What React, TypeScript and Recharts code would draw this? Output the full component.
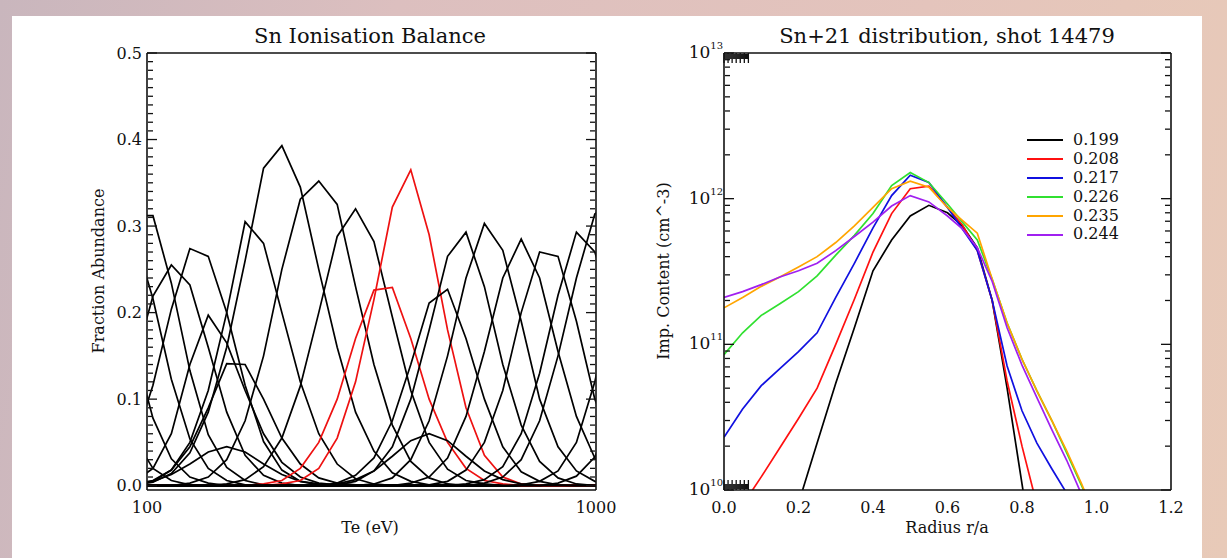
import React from "react";
import { LineChart, Line, XAxis, YAxis } from "recharts";

// ---------- left panel: Sn ionisation balance ----------
// Te grid (eV); first and last points sit just outside the 100-1000 axis
const TE = [93.9, 103.1, 113.3, 124.6, 136.9, 150.5, 165.4, 181.8, 199.7, 219.5, 241.3, 265.2, 291.4, 320.2, 351.9, 386.8, 425.0, 467.1, 513.4, 564.2, 620.0, 681.4, 748.9, 823.0, 904.5, 994.0, 1092.4];

// fractional abundance of each charge stage, one value per TE point
const STAGE_A = [0.054, 0.02, 0.006, 0.001, 0, 0, 0, 0, 0, 0, 0, 0, 0, 0, 0, 0, 0, 0, 0, 0, 0, 0, 0, 0, 0, 0, 0];
const STAGE_B = [0.157, 0.078, 0.031, 0.01, 0.003, 0, 0, 0, 0, 0, 0, 0, 0, 0, 0, 0, 0, 0, 0, 0, 0, 0, 0, 0, 0, 0, 0];
const STAGE_C = [0.288, 0.216, 0.123, 0.054, 0.02, 0.006, 0.001, 0, 0, 0, 0, 0, 0, 0, 0, 0, 0, 0, 0, 0, 0, 0, 0, 0, 0, 0, 0];
const STAGE_D = [0.312, 0.312, 0.234, 0.133, 0.059, 0.021, 0.006, 0.001, 0, 0, 0, 0, 0, 0, 0, 0, 0, 0, 0, 0, 0, 0, 0, 0, 0, 0, 0];
const STAGE_E = [0.143, 0.219, 0.255, 0.232, 0.16, 0.085, 0.035, 0.012, 0.003, 0, 0, 0, 0, 0, 0, 0, 0, 0, 0, 0, 0, 0, 0, 0, 0, 0, 0];
const STAGE_F = [0.051, 0.116, 0.204, 0.274, 0.265, 0.2, 0.116, 0.051, 0.018, 0.005, 0.001, 0, 0, 0, 0, 0, 0, 0, 0, 0, 0, 0, 0, 0, 0, 0, 0];
const STAGE_G = [0.005, 0.02, 0.06, 0.14, 0.197, 0.165, 0.11, 0.06, 0.027, 0.01, 0.003, 0.001, 0, 0, 0, 0, 0, 0, 0, 0, 0, 0, 0, 0, 0, 0, 0];
const STAGE_H = [0.002, 0.006, 0.018, 0.045, 0.09, 0.141, 0.14, 0.1, 0.055, 0.025, 0.009, 0.003, 0.001, 0, 0, 0, 0, 0, 0, 0, 0, 0, 0, 0, 0, 0, 0];
const STAGE_I = [0.002, 0.005, 0.013, 0.025, 0.039, 0.045, 0.039, 0.025, 0.013, 0.005, 0.002, 0, 0, 0, 0, 0, 0, 0, 0, 0, 0, 0, 0, 0, 0, 0, 0];
const STAGE_J = [0.001, 0.005, 0.018, 0.05, 0.11, 0.2, 0.305, 0.28, 0.2, 0.12, 0.06, 0.025, 0.008, 0.002, 0, 0, 0, 0, 0, 0, 0, 0, 0, 0, 0, 0, 0];
const STAGE_K = [0.001, 0.004, 0.014, 0.038, 0.085, 0.16, 0.26, 0.367, 0.393, 0.345, 0.25, 0.16, 0.085, 0.04, 0.015, 0.005, 0.001, 0, 0, 0, 0, 0, 0, 0, 0, 0, 0];
const STAGE_L = [0, 0, 0, 0.003, 0.01, 0.03, 0.075, 0.15, 0.25, 0.331, 0.352, 0.325, 0.23, 0.14, 0.07, 0.028, 0.009, 0.002, 0, 0, 0, 0, 0, 0, 0, 0, 0];
const STAGE_M = [0, 0, 0, 0, 0, 0.002, 0.007, 0.022, 0.055, 0.115, 0.2, 0.288, 0.32, 0.282, 0.195, 0.11, 0.05, 0.019, 0.006, 0.002, 0, 0, 0, 0, 0, 0, 0];
const STAGE_N = [0, 0, 0, 0, 0, 0, 0, 0.002, 0.006, 0.02, 0.05, 0.1, 0.17, 0.226, 0.229, 0.17, 0.1, 0.05, 0.02, 0.006, 0.002, 0, 0, 0, 0, 0, 0];
const STAGE_O = [0, 0, 0, 0, 0, 0, 0, 0, 0.002, 0.006, 0.02, 0.055, 0.12, 0.215, 0.322, 0.365, 0.29, 0.18, 0.09, 0.035, 0.01, 0.002, 0, 0, 0, 0, 0];
const STAGE_P = [0, 0, 0, 0, 0, 0, 0, 0, 0, 0, 0, 0.002, 0.007, 0.017, 0.034, 0.052, 0.06, 0.052, 0.034, 0.017, 0.007, 0.002, 0, 0, 0, 0, 0];
const STAGE_Q = [0, 0, 0, 0, 0, 0, 0, 0, 0, 0, 0, 0.003, 0.012, 0.032, 0.075, 0.14, 0.211, 0.227, 0.17, 0.1, 0.045, 0.016, 0.005, 0.001, 0, 0, 0];
const STAGE_R = [0, 0, 0, 0, 0, 0, 0, 0, 0, 0, 0, 0.001, 0.005, 0.017, 0.045, 0.1, 0.18, 0.265, 0.293, 0.23, 0.14, 0.07, 0.028, 0.009, 0.002, 0, 0];
const STAGE_S = [0, 0, 0, 0, 0, 0, 0, 0, 0, 0, 0, 0, 0, 0.002, 0.009, 0.03, 0.075, 0.15, 0.24, 0.303, 0.272, 0.19, 0.1, 0.045, 0.017, 0.005, 0.001];
const STAGE_T = [0, 0, 0, 0, 0, 0, 0, 0, 0, 0, 0, 0, 0, 0, 0, 0.003, 0.01, 0.032, 0.08, 0.155, 0.24, 0.285, 0.24, 0.155, 0.08, 0.032, 0.01];
const STAGE_U = [0, 0, 0, 0, 0, 0, 0, 0, 0, 0, 0, 0, 0, 0, 0, 0, 0.001, 0.005, 0.018, 0.05, 0.11, 0.2, 0.27, 0.265, 0.19, 0.1, 0.045];
const STAGE_V = [0, 0, 0, 0, 0, 0, 0, 0, 0, 0, 0, 0, 0, 0, 0, 0, 0, 0, 0.002, 0.007, 0.022, 0.06, 0.13, 0.22, 0.293, 0.27, 0.2];
const STAGE_W = [0, 0, 0, 0, 0, 0, 0, 0, 0, 0, 0, 0, 0, 0, 0, 0, 0, 0, 0, 0.003, 0.01, 0.03, 0.075, 0.15, 0.24, 0.314, 0.33];
const STAGE_X = [0, 0, 0, 0, 0, 0, 0, 0, 0, 0, 0, 0, 0, 0, 0, 0, 0, 0, 0, 0, 0, 0.001, 0.005, 0.017, 0.05, 0.12, 0.22];
const STAGE_Y = [0, 0, 0, 0, 0, 0, 0, 0, 0, 0, 0, 0, 0, 0, 0, 0, 0, 0, 0, 0, 0, 0, 0, 0.003, 0.011, 0.033, 0.084];

const STAGES = [STAGE_A, STAGE_B, STAGE_C, STAGE_D, STAGE_E, STAGE_F, STAGE_G, STAGE_H, STAGE_I, STAGE_J, STAGE_K, STAGE_L, STAGE_M, STAGE_N, STAGE_O, STAGE_P, STAGE_Q, STAGE_R, STAGE_S, STAGE_T, STAGE_U, STAGE_V, STAGE_W, STAGE_X, STAGE_Y];
const RED_STAGES = [13, 14]; // Sn+21 highlighted

const TE_TICKS = [100, 1000];
const TE_MINOR = [200, 300, 400, 500, 600, 700, 800, 900];
const FRAC_TICKS = [0, 0.1, 0.2, 0.3, 0.4, 0.5];
const FRAC_MINOR = [
  0.01, 0.02, 0.03, 0.04, 0.05, 0.06, 0.07, 0.08, 0.09,
  0.11, 0.12, 0.13, 0.14, 0.15, 0.16, 0.17, 0.18, 0.19,
  0.21, 0.22, 0.23, 0.24, 0.25, 0.26, 0.27, 0.28, 0.29,
  0.31, 0.32, 0.33, 0.34, 0.35, 0.36, 0.37, 0.38, 0.39,
  0.41, 0.42, 0.43, 0.44, 0.45, 0.46, 0.47, 0.48, 0.49,
];

// ---------- right panel: Sn+21 radial distribution ----------
const RADIUS = [0, 0.05, 0.1, 0.15, 0.2, 0.25, 0.3, 0.35, 0.4, 0.45, 0.5, 0.55, 0.6, 0.64, 0.68, 0.72, 0.76, 0.8, 0.84, 0.88, 0.92, 0.96, 1.0];
const DIST_199 = [null, null, null, 3.2e9, 8.1e9, 2.1e10, 5.4e10, 1.3e11, 3.2e11, 5.2e11, 7.6e11, 9.0e11, 8.0e11, 6.5e11, 4.6e11, 2.0e11, 5.0e10, 1.1e10, 2.5e9, null, null, null, null];
const DIST_208 = [null, 7.9e9, 1.23e10, 1.95e10, 3.1e10, 5.0e10, 1.0e11, 2.04e11, 4.3e11, 7.9e11, 1.17e12, 1.22e12, 8.7e11, 6.6e11, 4.4e11, 2.0e11, 5.6e10, 2.0e10, 7.9e9, null, null, null, null];
const DIST_217 = [2.3e10, 3.6e10, 5.2e10, 6.8e10, 8.9e10, 1.2e11, 2.1e11, 3.6e11, 6.3e11, 1.05e12, 1.45e12, 1.29e12, 8.7e11, 6.2e11, 4.4e11, 2.0e11, 7.1e10, 3.5e10, 2.1e10, 1.4e10, 9.5e9, 6.3e9, null];
const DIST_226 = [8.5e10, 1.2e11, 1.58e11, 1.9e11, 2.3e11, 2.95e11, 4.1e11, 5.6e11, 7.9e11, 1.23e12, 1.51e12, 1.29e12, 9.2e11, 6.9e11, 5.2e11, 2.8e11, 1.4e11, 7.9e10, 4.8e10, 3.0e10, 1.8e10, 1.07e10, 6.3e9];
const DIST_235 = [1.78e11, 2.1e11, 2.5e11, 2.9e11, 3.4e11, 4.0e11, 5.0e11, 6.5e11, 8.7e11, 1.17e12, 1.32e12, 1.2e12, 8.7e11, 7.1e11, 5.8e11, 2.8e11, 1.4e11, 7.9e10, 4.8e10, 3.0e10, 1.86e10, 1.1e10, 6.3e9];
const DIST_244 = [2.1e11, 2.3e11, 2.57e11, 2.9e11, 3.2e11, 3.6e11, 4.4e11, 5.5e11, 6.9e11, 8.9e11, 1.05e12, 9.5e11, 7.6e11, 6.2e11, 4.6e11, 2.7e11, 1.3e11, 7.2e10, 4.3e10, 2.6e10, 1.6e10, 9.3e9, null];

const DIST_NAMES = ["0.199", "0.208", "0.217", "0.226", "0.235", "0.244"];
const DIST_SERIES = [DIST_199, DIST_208, DIST_217, DIST_226, DIST_235, DIST_244];
const DIST_COLORS = ["#000000", "#ff1010", "#1010e0", "#30e030", "#ffa500", "#a020f0"];

const R_TICKS = [0, 0.2, 0.4, 0.6, 0.8, 1.0, 1.2];
const R_MINOR = [0.05, 0.1, 0.15, 0.25, 0.3, 0.35, 0.45, 0.5, 0.55, 0.65, 0.7, 0.75, 0.85, 0.9, 0.95, 1.05, 1.1, 1.15];
const DEC_TICKS = [1e10, 1e11, 1e12, 1e13];
const DEC_MINOR = [2e10, 3e10, 4e10, 5e10, 6e10, 7e10, 8e10, 9e10, 2e11, 3e11, 4e11, 5e11, 6e11, 7e11, 8e11, 9e11, 2e12, 3e12, 4e12, 5e12, 6e12, 7e12, 8e12, 9e12];
// same marks as exponents, for the left-hand tick ruler
const EXP_TICKS = [10, 11, 12, 13];
const EXP_MINOR = [
  10.301, 10.477, 10.602, 10.699, 10.778, 10.845, 10.903, 10.954,
  11.301, 11.477, 11.602, 11.699, 11.778, 11.845, 11.903, 11.954,
  12.301, 12.477, 12.602, 12.699, 12.778, 12.845, 12.903, 12.954,
];

const ionRows = TE.map((te, i) => {
  const row: Record<string, number> = { te };
  STAGES.forEach((s, k) => (row["s" + k] = s[i]));
  return row;
});

const distRows = RADIUS.map((r, i) => {
  const row: Record<string, number | null> = { r };
  DIST_SERIES.forEach((s, k) => (row["d" + k] = s[i]));
  return row;
});

const FONT = "'DejaVu Serif', serif";
const INK = "#111";
const AXIS = { stroke: INK, strokeWidth: 1.6 };
const TICK = { stroke: INK, strokeWidth: 1.3 };
const LABEL = { fontFamily: FONT, fontSize: 16, fill: INK };

// tick marks only, no text
const NoText = () => <g />;

function PowerTick(props: any) {
  const { x, y, payload } = props;
  const exp = Math.round(Math.log10(payload.value));
  return (
    <text x={x - 1} y={y} textAnchor="end" fontFamily={FONT} fill={INK}>
      <tspan fontSize={17} dy="0.3em">10</tspan>
      <tspan fontSize={10} dy="-0.9em">{exp}</tspan>
    </text>
  );
}

const abs = (left: number, top: number): React.CSSProperties => ({ position: "absolute", left, top });

function Title({ x, y, size, children, rotate }: any) {
  return (
    <div
      style={{
        position: "absolute",
        left: x,
        top: y,
        transform: `translate(-50%, -50%)${rotate ? " rotate(-90deg)" : ""}`,
        fontFamily: FONT,
        fontSize: size,
        color: INK,
        whiteSpace: "nowrap",
        lineHeight: 1,
      }}
    >
      {children}
    </div>
  );
}

function IonChart() {
  const num = { type: "number" as const, allowDataOverflow: true, interval: 0 as const };
  const teAx = { ...num, scale: "log" as const, domain: [100, 1000] };
  const frAx = { ...num, domain: [-0.005, 0.5] };
  const marks = { tick: <NoText />, axisLine: false, tickLine: TICK, mirror: true };
  return (
    <LineChart width={640} height={558} data={ionRows} margin={{ top: 53, right: 44, bottom: 67, left: 146 }}>
      <XAxis xAxisId={0} dataKey="te" {...teAx} ticks={TE_TICKS} height={1} tickSize={0} tickMargin={12} axisLine={AXIS} tickLine={false} tick={LABEL} />
      <XAxis xAxisId="bmin" {...teAx} {...marks} ticks={TE_MINOR} height={1} tickSize={7} />
      <XAxis xAxisId="top" orientation="top" {...teAx} {...marks} ticks={TE_MINOR} height={1} tickSize={7} axisLine={AXIS} />
      <YAxis yAxisId={0} {...frAx} ticks={FRAC_TICKS} width={1} tickSize={0} tickMargin={5} axisLine={AXIS} tickLine={false} tick={LABEL} tickFormatter={(v: number) => v.toFixed(1)} />
      <YAxis yAxisId="lmaj" {...frAx} {...marks} ticks={FRAC_TICKS} width={1} tickSize={10} />
      <YAxis yAxisId="lmin" {...frAx} {...marks} ticks={FRAC_MINOR} width={1} tickSize={5} />
      <YAxis yAxisId="rmaj" orientation="right" {...frAx} {...marks} ticks={FRAC_TICKS} width={1} tickSize={10} axisLine={AXIS} />
      <YAxis yAxisId="rmin" orientation="right" {...frAx} {...marks} ticks={FRAC_MINOR} width={1} tickSize={5} />
      {STAGES.map((_, k) => (
        <Line
          key={k}
          dataKey={"s" + k}
          type="linear"
          stroke={RED_STAGES.includes(k) ? "#ee1111" : "#000"}
          strokeWidth={1.7}
          dot={false}
          activeDot={false}
          isAnimationActive={false}
        />
      ))}
    </LineChart>
  );
}

function DistChart() {
  const num = { type: "number" as const, allowDataOverflow: true, interval: 0 as const };
  const rAx = { ...num, domain: [0, 1.2] };
  const nAx = { ...num, scale: "log" as const, domain: [1e10, 1e13] };
  const marks = { tick: <NoText />, axisLine: false, tickLine: TICK, mirror: true };
  return (
    <LineChart width={640} height={558} data={distRows} margin={{ top: 53, right: 29, bottom: 67, left: 163 }}>
      <XAxis xAxisId={0} dataKey="r" {...rAx} ticks={R_TICKS} height={1} tickSize={0} tickMargin={12} axisLine={AXIS} tickLine={false} tick={LABEL} tickFormatter={(v: number) => v.toFixed(1)} />
      <XAxis xAxisId="bmaj" {...rAx} {...marks} ticks={R_TICKS} height={1} tickSize={10} />
      <XAxis xAxisId="bmin" {...rAx} {...marks} ticks={R_MINOR} height={1} tickSize={5} />
      <XAxis xAxisId="tmaj" orientation="top" {...rAx} {...marks} ticks={R_TICKS} height={1} tickSize={10} axisLine={AXIS} />
      <XAxis xAxisId="tmin" orientation="top" {...rAx} {...marks} ticks={R_MINOR} height={1} tickSize={5} />
      <YAxis yAxisId={0} {...nAx} ticks={DEC_TICKS} width={1} tickSize={0} tickMargin={0} axisLine={AXIS} tickLine={false} tick={<PowerTick />} />
      <YAxis yAxisId="rmaj" orientation="right" {...nAx} {...marks} ticks={DEC_TICKS} width={1} tickSize={10} axisLine={AXIS} />
      <YAxis yAxisId="rmin" orientation="right" {...nAx} {...marks} ticks={DEC_MINOR} width={1} tickSize={5} />
      {DIST_SERIES.map((_, k) => (
        <Line
          key={k}
          dataKey={"d" + k}
          name={DIST_NAMES[k]}
          type="linear"
          stroke={DIST_COLORS[k]}
          strokeWidth={1.7}
          dot={false}
          activeDot={false}
          isAnimationActive={false}
        />
      ))}
    </LineChart>
  );
}

// transparent overlay holding only the inward marks of the right panel's left edge
function DistLeftRuler() {
  const eAx = { type: "number" as const, allowDataOverflow: true, interval: 0 as const, domain: [10, 13] };
  const marks = { tick: <NoText />, axisLine: false, tickLine: TICK, mirror: true };
  return (
    <LineChart width={640} height={558} data={distRows} margin={{ top: 53, right: 29, bottom: 67, left: 163 }}>
      <XAxis xAxisId={0} dataKey="r" type="number" domain={[0, 1.2]} allowDataOverflow height={1} axisLine={false} tickLine={false} tick={false} />
      <YAxis yAxisId={0} {...eAx} ticks={EXP_TICKS} width={1} tickSize={0} axisLine={false} tickLine={false} tick={LABEL} tickFormatter={() => ""} />
      <YAxis yAxisId="lmaj" {...eAx} {...marks} ticks={EXP_TICKS} width={1} tickSize={10} />
      <YAxis yAxisId="lmin" {...eAx} {...marks} ticks={EXP_MINOR} width={1} tickSize={5} />
    </LineChart>
  );
}

export default function App() {
  return (
    <div
      style={{
        position: "absolute",
        left: 0,
        top: 0,
        width: 1227,
        height: 558,
        overflow: "hidden",
        background: "linear-gradient(100deg, #c9b6bd 0%, #dcbfbf 30%, #e4c4bc 70%, #e8cab8 100%)",
      }}
    >
      <div style={{ position: "absolute", left: 12, top: 16, width: 1190, height: 542, background: "#fff" }} />
      <div style={abs(0, 0)}>
        <IonChart />
      </div>
      <div style={abs(560, 0)}>
        <DistChart />
      </div>
      <div style={abs(560, 0)}>
        <DistLeftRuler />
      </div>
      <Title x={370} y={36} size={21}>Sn Ionisation Balance</Title>
      <Title x={947} y={36} size={21}>Sn+21 distribution, shot 14479</Title>
      <Title x={370} y={528} size={16}>Te (eV)</Title>
      <Title x={947} y={528} size={16}>Radius r/a</Title>
      <Title x={99} y={271} size={16} rotate>Fraction Abundance</Title>
      <Title x={664} y={271} size={16} rotate>Imp. Content (cm^-3)</Title>
      <div style={{ position: "absolute", left: 1027, top: 131, fontFamily: FONT, fontSize: 16, color: INK, lineHeight: "18.9px" }}>
        {DIST_NAMES.map((n, k) => (
          <div key={n} style={{ display: "flex", alignItems: "center", height: 18.9 }}>
            <span style={{ display: "inline-block", width: 36, height: 0, borderTop: `2px solid ${DIST_COLORS[k]}`, marginRight: 10 }} />
            <span>{n}</span>
          </div>
        ))}
      </div>
    </div>
  );
}
